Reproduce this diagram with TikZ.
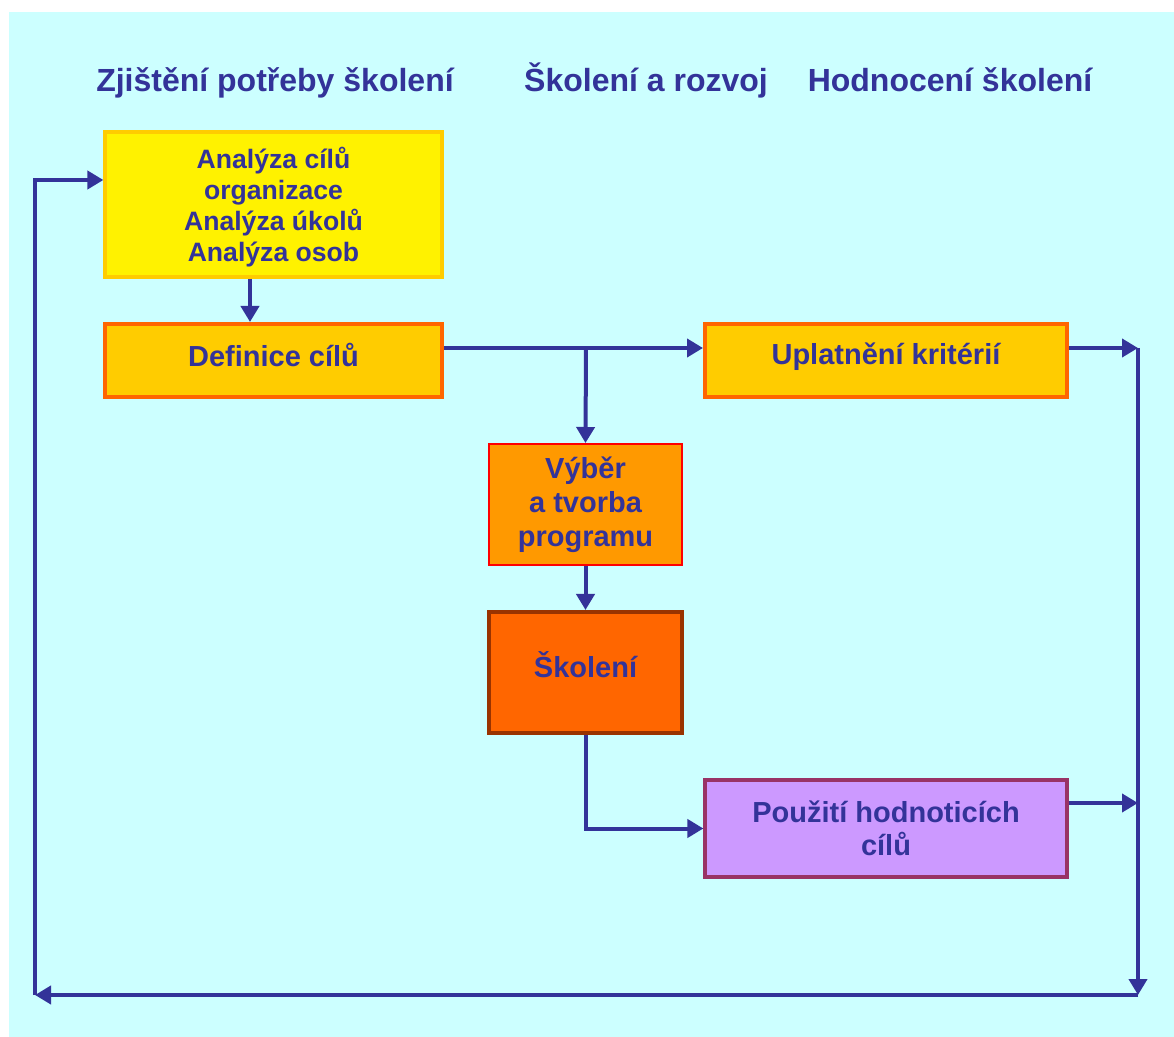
\documentclass[tikz,border=0pt]{standalone}
\usepackage{fontspec}
\setmainfont{Liberation Sans}
\usepackage{tikz}
\usetikzlibrary{arrows.meta}
\definecolor{bgcyan}{HTML}{CCFFFF}
\definecolor{inkblue}{HTML}{333399}
\definecolor{gold}{HTML}{FFCC00}
\definecolor{orangeA}{HTML}{FF9900}
\definecolor{orangeB}{HTML}{FF6600}
\definecolor{brownB}{HTML}{993300}
\definecolor{lilac}{HTML}{CC99FF}
\definecolor{plum}{HTML}{993366}
\tikzset{
  flow/.style   = {-{Triangle[length=8pt,width=9pt]},line width=2pt,inkblue},
  box/.style    = {draw,line width=1.6pt,align=center,inner sep=0pt,text=inkblue,
                   font=\bfseries\fontsize{14.5}{16.5}\selectfont},
  header/.style = {anchor=base,text=inkblue,font=\bfseries\fontsize{16}{19}\selectfont}
}
\begin{document}
\begin{tikzpicture}[x=0.5pt,y=-0.5pt]
  \useasboundingbox (0,0) rectangle (1174,1037);
  \fill[bgcyan] (9,12) rectangle (1174,1037);
  \node[header] (h1) at (275,92) {Zjištění potřeby školení};
  \node[header] (h2) at (646,92) {Školení a rozvoj};
  \node[header] (h3) at (950,92) {Hodnocení školení};
  \node[box,fill=yellow,draw=gold,minimum width=168.5pt,minimum height=72.5pt,
        text depth=0pt,font=\bfseries\fontsize{13.3}{15.5}\selectfont]
    (anal) at (273.5,204.5) {Analýza cílů\\organizace\\Analýza úkolů\\Analýza osob};
  \node[box,fill=gold,draw=orangeB,line width=2pt,minimum width=168.5pt,minimum height=36.5pt,
        text depth=6pt]
    (defin) at (273.5,360.5) {Definice cílů};
  \node[box,fill=gold,draw=orangeB,line width=2pt,minimum width=181pt,minimum height=36.5pt,
        text depth=7pt]
    (upl) at (886,360.5) {Uplatnění kritérií};
  \node[box,fill=orangeA,draw=red,line width=1pt,minimum width=96.5pt,minimum height=60.5pt,
        font=\bfseries\fontsize{14.5}{17}\selectfont]
    (vyber) at (585.5,504.5) {Výběr\\a tvorba\\programu};
  \node[box,fill=orangeB,draw=brownB,line width=2pt,minimum width=96.5pt,minimum height=60.5pt,
        text depth=8pt]
    (skol) at (585.5,672.5) {Školení};
  \node[box,fill=lilac,draw=plum,minimum width=181pt,minimum height=48.5pt]
    (pouz) at (886,828.5) {Použití hodnoticích\\cílů};
  \coordinate (split) at (586,348);
  \coordinate (r1) at (1138,348);
  \coordinate (r2) at (1138,803);
  \coordinate (br) at (1138,995);
  \coordinate (bl) at (35,995);
  \draw[flow] ([xshift=-11.75pt]anal.south) -- ([xshift=-11.75pt]defin.north);
  \draw[flow] ([yshift=6.25pt]defin.east) -- ([yshift=6.25pt]upl.west);
  \draw[flow] (split) -- (vyber.north);
  \draw[flow] (vyber) -- (skol);
  \draw[flow] (skol.south) |- (pouz.west);
  \draw[flow] ([yshift=6.25pt]upl.east) -- (r1);
  \draw[flow] ([yshift=12.75pt]pouz.east) -- (r2);
  \draw[flow] (r1) -- (br);
  \draw[flow] (br) -- (bl);
  \draw[flow] (bl) |- ([yshift=12.25pt]anal.west);
\end{tikzpicture}
\end{document}
